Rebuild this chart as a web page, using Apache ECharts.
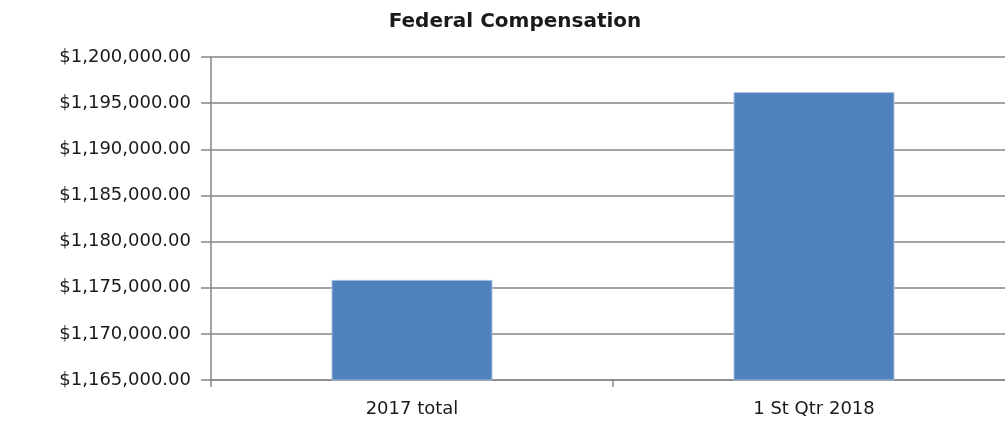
<!DOCTYPE html>
<html>
<head>
<meta charset="utf-8">
<script src="https://cdn.jsdelivr.net/npm/echarts@6/dist/echarts.min.js"></script>
<style>html,body{margin:0;padding:0;background:#fff;overflow:hidden}#c{width:1015px;height:421px}</style>
</head>
<body>
<div id="c"></div>
<script>
const categories = ["2017 total", "1 St Qtr 2018"];
const compensation = [1175850, 1196200];
const yMin = 1165000, yMax = 1200000, yStep = 5000;

const chart = echarts.init(document.getElementById('c'), null, {renderer: 'canvas'});
chart.setOption({
  animation: false,
  backgroundColor: '#ffffff',
  title: {
    text: 'Federal Compensation',
    left: 510, textAlign: 'center', top: 7,
    textStyle: {fontFamily: 'DejaVu Sans', fontWeight: 'bold', fontSize: 20, color: '#1a1a1a'}
  },
  grid: {left: 211, top: 57, bottom: 41, right: 0, containLabel: false},
  xAxis: {
    type: 'category', data: categories,
    axisLine: {lineStyle: {color: '#868686', width: 1.5}},
    axisTick: {show: true, length: 7, lineStyle: {color: '#868686', width: 1.5}},
    axisLabel: {margin: 20, fontFamily: 'DejaVu Sans', fontSize: 18, color: '#1a1a1a'}
  },
  yAxis: {
    type: 'value', min: yMin, max: yMax, interval: yStep,
    axisLine: {show: true, lineStyle: {color: '#868686', width: 1.5}},
    axisTick: {show: true, length: 10, lineStyle: {color: '#868686', width: 1.5}},
    splitLine: {lineStyle: {color: '#868686', width: 1.5}},
    axisLabel: {
      margin: 20, fontFamily: 'DejaVu Sans', fontSize: 18, color: '#1a1a1a',
      formatter: v => '$' + v.toLocaleString('en-US', {minimumFractionDigits: 2, maximumFractionDigits: 2})
    }
  },
  series: [{
    type: 'bar', data: compensation, barWidth: 161,
    itemStyle: {color: '#4F81BD', borderColor: '#A8C0DE', borderWidth: 1}
  }]
});
</script>
</body>
</html>
